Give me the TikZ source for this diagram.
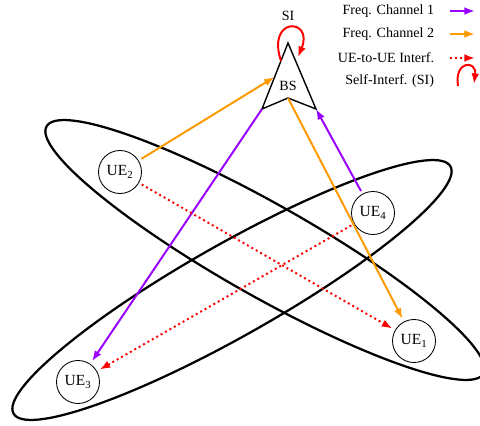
\documentclass[tikz,border=0pt]{standalone}
\usepackage{fontspec}
\setmainfont{Liberation Serif}
\usetikzlibrary{arrows.meta}
\definecolor{chone}{RGB}{153,0,255}
\definecolor{chtwo}{RGB}{255,153,0}
\tikzset{
  ue/.style={draw, circle, fill=white, line width=0.6pt, minimum size=1.075cm,
    inner sep=0pt, outer sep=2.5pt, font=\fontsize{11}{13}\selectfont},
  cluster/.style={line width=1.6pt},
  tip/.style={-{Latex[length=7.5pt,width=5.5pt]}},
  linkone/.style={tip, chone, line width=1.4pt},
  linktwo/.style={tip, chtwo, line width=1.4pt},
  interf/.style={tip, red, line width=1.4pt, dash pattern=on 1.4pt off 2.2pt},
}

\begin{document}
\begin{tikzpicture}[x=0.025cm, y=-0.025cm]
  \useasboundingbox (0,0) rectangle (480,426);
  % two user clusters
  \draw[cluster, rotate around={-29.5:(265,250)}] (265,250) ellipse [x radius=251, y radius=46];
  \draw[cluster, rotate around={29.5:(232,290)}] (232,290) ellipse [x radius=251, y radius=46];
  % base station
  \coordinate (bsTop) at (288,43);
  \coordinate (bsL) at (262,109);
  \coordinate (bsM) at (288,98);
  \coordinate (bsR) at (316,109);
  \coordinate (bsIn) at (274.5,77);
  \draw[line width=1pt, line join=miter] (bsTop) -- (bsR) -- (bsM) -- (bsL) -- cycle;
  \node (bs) at (288,86) {BS};
  % self-interference loop
  \coordinate (siA) at (281,61);
  \coordinate (siB) at (298,57);
  \draw[tip, red, line width=1.4pt] (siA) .. controls (266,16) and (314,18) .. (siB);
  \node (si) at (288,16) {SI};
  % users
  \node[ue] (ue1) at (414,341) {UE\textsubscript{1}};
  \node[ue] (ue2) at (120,172) {UE\textsubscript{2}};
  \node[ue] (ue3) at (78,382) {UE\textsubscript{3}};
  \node[ue] (ue4) at (373,213) {UE\textsubscript{4}};
  % links
  \draw[linktwo] (ue2) -- (bsIn);
  \draw[linktwo] (bsM) -- (ue1);
  \draw[linkone] (ue4) -- (bsR);
  \draw[linkone] (bsL) -- (ue3);
  \draw[interf] (ue2) -- (ue1);
  \draw[interf] (ue4) -- (ue3);
  % legend
  \node[anchor=east] (lgOne) at (439,11) {Freq. Channel 1};
  \node[anchor=east] (lgTwo) at (439,34) {Freq. Channel 2};
  \node[anchor=east] (lgInt) at (439,58) {UE-to-UE Interf.};
  \node[anchor=east] (lgSi) at (439,81) {Self-Interf. (SI)};
  \coordinate (lgOneEnd) at (475,11);
  \coordinate (lgTwoEnd) at (475,34);
  \coordinate (lgIntEnd) at (475,58);
  \draw[linkone] ([xshift=8]lgOne.east) -- (lgOneEnd);
  \draw[linktwo] ([xshift=8]lgTwo.east) -- (lgTwoEnd);
  \draw[interf] ([xshift=8]lgInt.east) -- (lgIntEnd);
  \draw[tip, red, line width=1.4pt] (458,86) .. controls (454,60) and (477,60) .. (474,84);
\end{tikzpicture}
\end{document}
